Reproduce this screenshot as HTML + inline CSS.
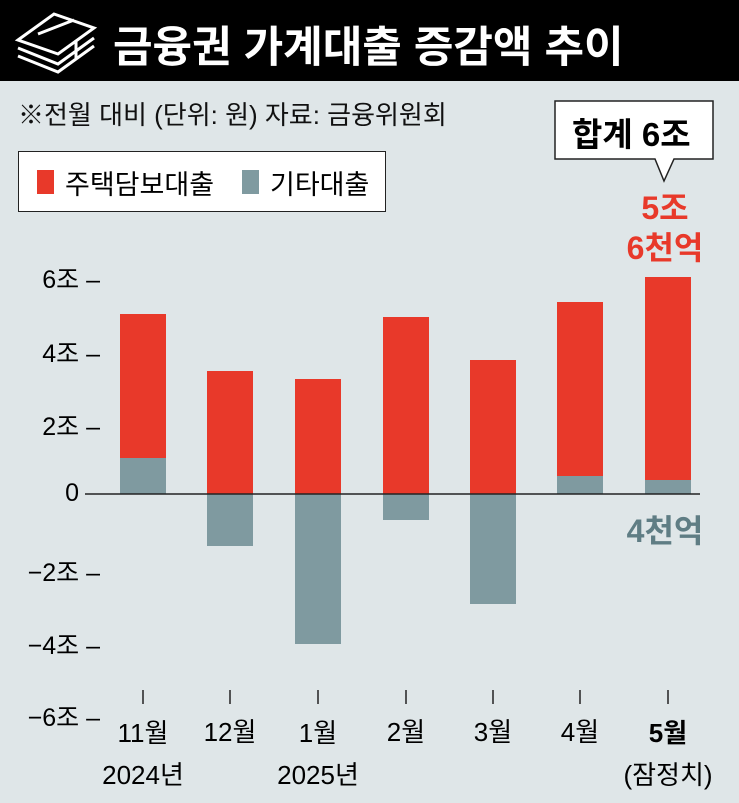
<!DOCTYPE html><html><head><meta charset="utf-8"><style>
body{margin:0;width:739px;height:803px;background:#dfe6e8;font-family:"Liberation Sans","Noto Sans CJK KR",sans-serif;position:relative;overflow:hidden}
.a{position:absolute;white-space:nowrap}
</style></head><body>
<div class="a" style="left:0;top:0;width:739px;height:81px;background:#000"></div>
<svg class="a" style="left:14px;top:8px" width="84" height="66" viewBox="0 0 84 66" fill="none" stroke="#fff" stroke-width="3">
<path d="M4 32 L40 6 L80 20 L44 46 Z"/><path d="M4 40 L44 56 L80 30"/><path d="M4 48 L44 64 L80 38"/><path d="M24 26 L60 12"/><path d="M62 32 L62 50"/></svg>
<div class="a" style="left:113px;top:13px;color:#fff;font-size:43px;font-weight:bold;letter-spacing:0px">금융권 가계대출 증감액 추이</div>
<div class="a" style="left:18px;top:95px;font-size:26px;color:#111">※전월 대비 (단위: 원) 자료: 금융위원회</div>
<div class="a" style="left:18px;top:151px;width:366px;height:59px;background:#fff;border:1.5px solid #222"></div>
<div class="a" style="left:37px;top:170px;width:17px;height:24px;background:#e8392a"></div>
<div class="a" style="left:65px;top:163px;font-size:27px">주택담보대출</div>
<div class="a" style="left:242px;top:170px;width:17px;height:24px;background:#7f9aa0"></div>
<div class="a" style="left:270px;top:163px;font-size:27px">기타대출</div>
<svg class="a" style="left:0;top:0" width="739" height="803">
<path d="M555 101 H713 V159 H674 L664 181 L655 159 H555 Z" fill="#fff" stroke="#222" stroke-width="1.5"/>
<g fill="#e8392a"><rect x="120" y="314" width="46" height="180"/><rect x="207" y="371" width="46" height="123"/><rect x="295" y="379" width="46" height="115"/><rect x="383" y="317" width="46" height="177"/><rect x="470" y="360" width="46" height="134"/><rect x="557" y="302" width="46" height="174"/><rect x="645" y="277" width="46" height="203"/></g>
<g fill="#7f9aa0"><rect x="120" y="458" width="46" height="36"/><rect x="207" y="494" width="46" height="52"/><rect x="295" y="494" width="46" height="150"/><rect x="383" y="494" width="46" height="26"/><rect x="470" y="494" width="46" height="110"/><rect x="557" y="476" width="46" height="18"/><rect x="645" y="480" width="46" height="14"/></g>
<line x1="85" y1="494" x2="700" y2="494" stroke="#222" stroke-width="1.5"/>
<g stroke="#222" stroke-width="1.5"><line x1="143" y1="690" x2="143" y2="704"/><line x1="230" y1="690" x2="230" y2="704"/><line x1="318" y1="690" x2="318" y2="704"/><line x1="406" y1="690" x2="406" y2="704"/><line x1="493" y1="690" x2="493" y2="704"/><line x1="580" y1="690" x2="580" y2="704"/><line x1="668" y1="690" x2="668" y2="704"/></g>
</svg>
<div class="a" style="left:572px;top:108px;font-size:33px;font-weight:bold">합계 6조</div>
<div class="a" style="left:0;top:260px;width:100px;text-align:right;font-size:25px">6조 –</div>
<div class="a" style="left:0;top:334px;width:100px;text-align:right;font-size:25px">4조 –</div>
<div class="a" style="left:0;top:407px;width:100px;text-align:right;font-size:25px">2조 –</div>
<div class="a" style="left:0;top:479px;width:79px;text-align:right;font-size:25px">0</div>
<div class="a" style="left:0;top:553px;width:100px;text-align:right;font-size:25px">−2조 –</div>
<div class="a" style="left:0;top:626px;width:100px;text-align:right;font-size:25px">−4조 –</div>
<div class="a" style="left:0;top:698px;width:100px;text-align:right;font-size:25px">−6조 –</div>
<div class="a" style="left:610px;top:188px;width:110px;text-align:center;color:#e8392a;font-size:32px;font-weight:bold;line-height:40px">5조<br>6천억</div>
<div class="a" style="left:610px;top:506px;width:110px;text-align:center;color:#5f7d84;font-size:32px;font-weight:bold">4천억</div>
<div class="a" style="left:93px;top:712px;width:100px;text-align:center;font-size:26px;line-height:42px">11월<br>2024년</div>
<div class="a" style="left:180px;top:712px;width:100px;text-align:center;font-size:26px">12월</div>
<div class="a" style="left:268px;top:712px;width:100px;text-align:center;font-size:26px;line-height:42px">1월<br>2025년</div>
<div class="a" style="left:356px;top:712px;width:100px;text-align:center;font-size:26px">2월</div>
<div class="a" style="left:443px;top:712px;width:100px;text-align:center;font-size:26px">3월</div>
<div class="a" style="left:530px;top:712px;width:100px;text-align:center;font-size:26px">4월</div>
<div class="a" style="left:613px;top:712px;width:110px;text-align:center;font-size:26px;line-height:42px"><b>5월</b><br>(잠정치)</div>
</body></html>
